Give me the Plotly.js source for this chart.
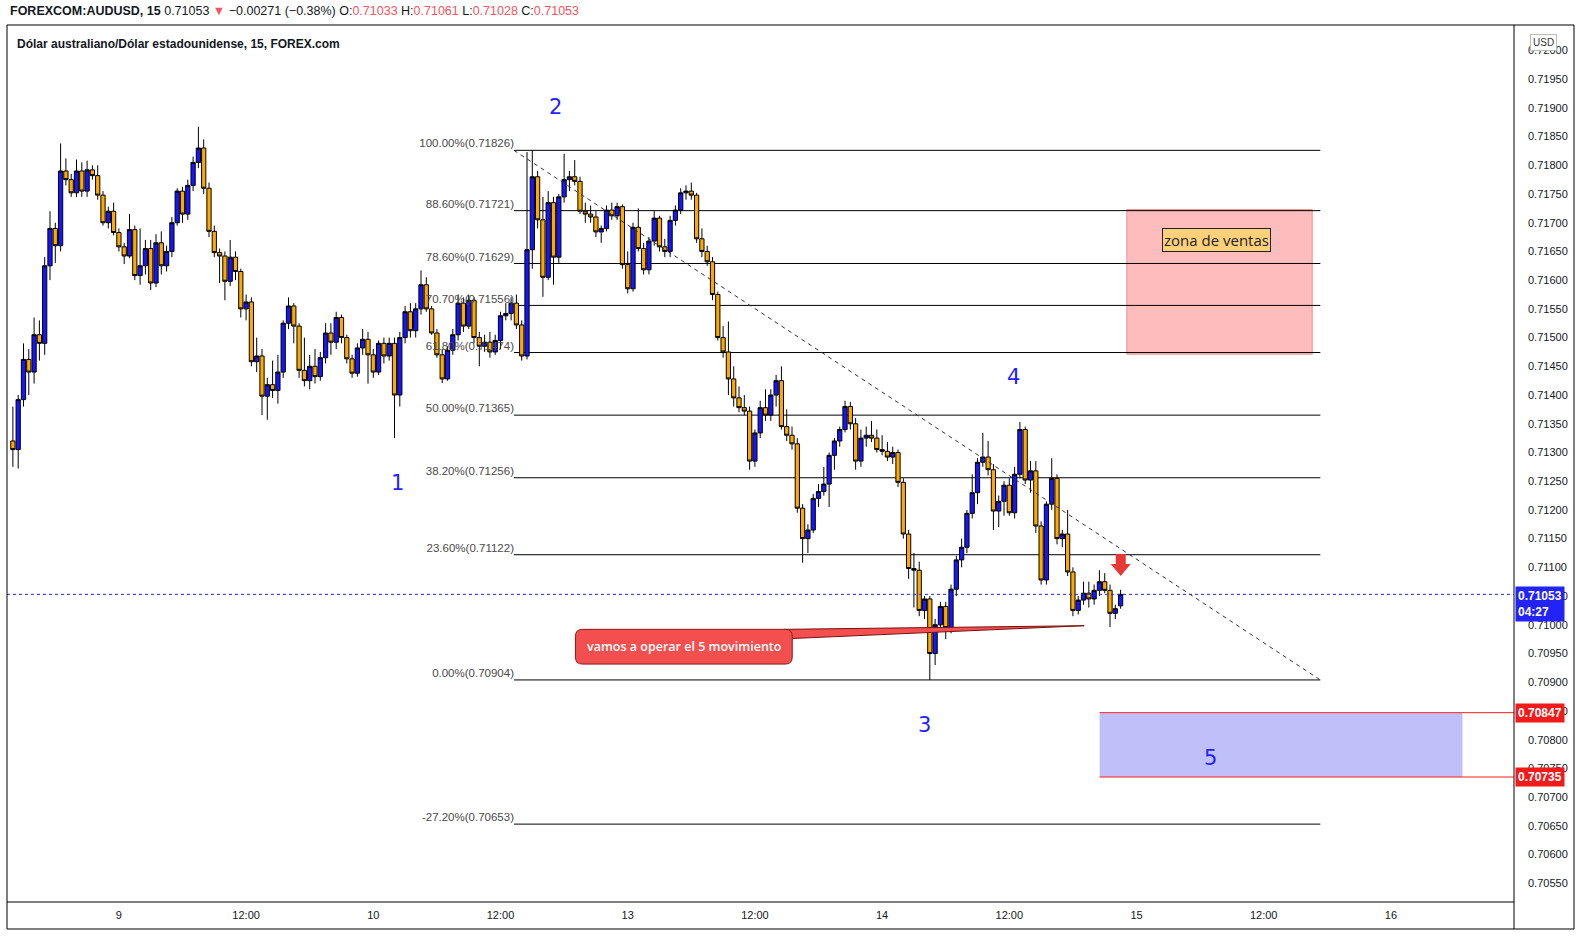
<!DOCTYPE html>
<html><head><meta charset="utf-8">
<script src="https://cdn.plot.ly/plotly-3.0.1.min.js"></script>
<style>html,body{margin:0;padding:0;background:#fff;}#chart{width:1580px;height:936px;}</style>
</head><body><div id="chart"></div>
<script>
// ---------- DATA (30-minute candles, AUDUSD) ----------
const barStartHour = -10;     // hours relative to day "9" 00:00
const barStepHours = 0.5;

const open = [
0.71320,0.71305,0.71392,0.71462,0.71440,0.71505,0.71490,0.71625,0.71690,0.71660,
0.71790,0.71775,0.71752,0.71790,0.71755,0.71792,0.71782,0.71748,0.71700,0.71720,
0.71683,0.71658,0.71642,0.71688,0.71608,0.71625,0.71655,0.71595,0.71665,0.71625,
0.71650,0.71700,0.71755,0.71715,0.71765,0.71805,0.71830,0.71760,0.71685,0.71648,
0.71642,0.71598,0.71640,0.71615,0.71550,0.71562,0.71458,0.71468,0.71398,0.71418,
0.71408,0.71440,0.71525,0.71555,0.71520,0.71443,0.71425,0.71450,0.71432,0.71465,
0.71508,0.71492,0.71535,0.71500,0.71463,0.71438,0.71482,0.71497,0.71470,0.71440,
0.71490,0.71468,0.71490,0.71400,0.71500,0.71545,0.71512,0.71550,0.71592,0.71550,
0.71508,0.71470,0.71428,0.71478,0.71505,0.71560,0.71520,0.71565,0.71500,0.71485,
0.71492,0.71475,0.71495,0.71538,0.71542,0.71560,0.71522,0.71468,0.71653,0.71780,
0.71705,0.71605,0.71735,0.71640,0.71745,0.71775,0.71780,0.71772,0.71720,0.71715,
0.71710,0.71684,0.71690,0.71722,0.71712,0.71728,0.71627,0.71585,0.71692,0.71655,
0.71618,0.71668,0.71708,0.71658,0.71650,0.71704,0.71722,0.71752,0.71755,0.71748,
0.71672,0.71650,0.71632,0.71575,0.71500,0.71475,0.71428,0.71395,0.71378,0.71372,
0.71285,0.71334,0.71378,0.71365,0.71400,0.71425,0.71345,0.71330,0.71315,0.71203,
0.71150,0.71165,0.71220,0.71232,0.71245,0.71295,0.71320,0.71340,0.71380,0.71350,
0.71285,0.71325,0.71330,0.71325,0.71305,0.71302,0.71292,0.71300,0.71248,0.71158,
0.71098,0.71095,0.71025,0.71045,0.70950,0.71000,0.71032,0.70995,0.71062,0.71113,
0.71135,0.71194,0.71230,0.71283,0.71292,0.71270,0.71198,0.71215,0.71243,0.71195,
0.71262,0.71340,0.71252,0.71268,0.71172,0.71078,0.71210,0.71255,0.71150,0.71158,
0.71092,0.71025,0.71043,0.71055,0.71045,0.71060,0.71075,0.71060,0.71020,0.71033];

const high = [
0.71380,0.71400,0.71490,0.71480,0.71535,0.71530,0.71640,0.71720,0.71700,0.71838,
0.71812,0.71785,0.71810,0.71805,0.71808,0.71800,0.71800,0.71755,0.71728,0.71735,
0.71690,0.71665,0.71715,0.71695,0.71690,0.71670,0.71670,0.71680,0.71685,0.71660,
0.71710,0.71760,0.71762,0.71775,0.71815,0.71867,0.71845,0.71770,0.71695,0.71655,
0.71650,0.71670,0.71650,0.71620,0.71575,0.71570,0.71500,0.71480,0.71430,0.71460,
0.71470,0.71530,0.71570,0.71560,0.71525,0.71500,0.71470,0.71480,0.71475,0.71525,
0.71525,0.71545,0.71540,0.71505,0.71470,0.71490,0.71515,0.71510,0.71480,0.71495,
0.71500,0.71500,0.71500,0.71510,0.71555,0.71560,0.71560,0.71617,0.71605,0.71555,
0.71515,0.71480,0.71485,0.71515,0.71575,0.71570,0.71575,0.71570,0.71510,0.71505,
0.71510,0.71505,0.71545,0.71560,0.71570,0.71575,0.71530,0.71823,0.71826,0.71790,
0.71745,0.71755,0.71745,0.71750,0.71820,0.71790,0.71809,0.71780,0.71735,0.71730,
0.71720,0.71695,0.71730,0.71735,0.71735,0.71732,0.71650,0.71700,0.71725,0.71665,
0.71675,0.71720,0.71712,0.71672,0.71712,0.71730,0.71760,0.71765,0.71770,0.71752,
0.71690,0.71660,0.71640,0.71580,0.71520,0.71528,0.71450,0.71415,0.71400,0.71380,
0.71340,0.71390,0.71410,0.71410,0.71435,0.71450,0.71375,0.71345,0.71325,0.71210,
0.71175,0.71228,0.71245,0.71275,0.71300,0.71325,0.71345,0.71390,0.71388,0.71360,
0.71340,0.71345,0.71355,0.71340,0.71330,0.71318,0.71310,0.71305,0.71255,0.71165,
0.71125,0.71110,0.71050,0.71050,0.71010,0.71040,0.71040,0.71070,0.71120,0.71150,
0.71200,0.71262,0.71290,0.71334,0.71320,0.71280,0.71225,0.71250,0.71255,0.71275,
0.71353,0.71345,0.71285,0.71285,0.71180,0.71215,0.71290,0.71262,0.71165,0.71200,
0.71100,0.71050,0.71075,0.71075,0.71070,0.71095,0.71090,0.71070,0.71035,0.71061];

const low = [
0.71275,0.71272,0.71380,0.71400,0.71420,0.71460,0.71470,0.71600,0.71630,0.71650,
0.71765,0.71745,0.71745,0.71745,0.71745,0.71775,0.71740,0.71695,0.71690,0.71678,
0.71650,0.71628,0.71638,0.71600,0.71592,0.71610,0.71583,0.71588,0.71610,0.71615,
0.71640,0.71695,0.71700,0.71705,0.71755,0.71795,0.71750,0.71675,0.71640,0.71595,
0.71565,0.71590,0.71600,0.71535,0.71530,0.71450,0.71440,0.71365,0.71357,0.71395,
0.71385,0.71430,0.71515,0.71490,0.71430,0.71415,0.71410,0.71420,0.71425,0.71455,
0.71470,0.71480,0.71490,0.71455,0.71430,0.71432,0.71470,0.71420,0.71430,0.71435,
0.71455,0.71460,0.71325,0.71380,0.71490,0.71500,0.71500,0.71540,0.71545,0.71505,
0.71465,0.71421,0.71425,0.71470,0.71495,0.71510,0.71515,0.71490,0.71450,0.71475,
0.71465,0.71470,0.71480,0.71530,0.71530,0.71515,0.71460,0.71462,0.71620,0.71690,
0.71571,0.71600,0.71592,0.71630,0.71735,0.71755,0.71765,0.71715,0.71700,0.71700,
0.71675,0.71665,0.71685,0.71705,0.71705,0.71620,0.71577,0.71580,0.71650,0.71610,
0.71610,0.71660,0.71650,0.71640,0.71640,0.71695,0.71715,0.71740,0.71740,0.71665,
0.71640,0.71625,0.71565,0.71495,0.71465,0.71400,0.71380,0.71370,0.71365,0.71270,
0.71275,0.71325,0.71355,0.71355,0.71380,0.71340,0.71320,0.71305,0.71195,0.71108,
0.71125,0.71160,0.71205,0.71225,0.71205,0.71270,0.71310,0.71335,0.71340,0.71270,
0.71275,0.71310,0.71318,0.71300,0.71295,0.71285,0.71280,0.71240,0.71150,0.71080,
0.71030,0.71015,0.71010,0.70904,0.70930,0.70990,0.70975,0.70985,0.71050,0.71100,
0.71125,0.71185,0.71210,0.71275,0.71260,0.71165,0.71170,0.71190,0.71190,0.71185,
0.71255,0.71245,0.71230,0.71160,0.71070,0.71070,0.71200,0.71140,0.71135,0.71085,
0.71015,0.71018,0.71035,0.71030,0.71035,0.71050,0.71055,0.70996,0.71010,0.71028];

const close = [
0.71305,0.71392,0.71462,0.71440,0.71505,0.71490,0.71625,0.71690,0.71660,0.71790,
0.71775,0.71752,0.71790,0.71755,0.71792,0.71782,0.71748,0.71700,0.71720,0.71683,
0.71658,0.71642,0.71688,0.71608,0.71625,0.71655,0.71595,0.71665,0.71625,0.71650,
0.71700,0.71755,0.71715,0.71765,0.71805,0.71830,0.71760,0.71685,0.71648,0.71642,
0.71598,0.71640,0.71615,0.71550,0.71562,0.71458,0.71468,0.71398,0.71418,0.71408,
0.71440,0.71525,0.71555,0.71520,0.71443,0.71425,0.71450,0.71432,0.71465,0.71508,
0.71492,0.71535,0.71500,0.71463,0.71438,0.71482,0.71497,0.71470,0.71440,0.71490,
0.71468,0.71490,0.71400,0.71500,0.71545,0.71512,0.71550,0.71592,0.71550,0.71508,
0.71470,0.71428,0.71478,0.71505,0.71560,0.71520,0.71565,0.71500,0.71485,0.71492,
0.71475,0.71495,0.71538,0.71542,0.71560,0.71522,0.71468,0.71653,0.71780,0.71705,
0.71605,0.71735,0.71640,0.71745,0.71775,0.71780,0.71772,0.71720,0.71715,0.71710,
0.71684,0.71690,0.71722,0.71712,0.71728,0.71627,0.71585,0.71692,0.71655,0.71618,
0.71668,0.71708,0.71658,0.71650,0.71704,0.71722,0.71752,0.71755,0.71748,0.71672,
0.71650,0.71632,0.71575,0.71500,0.71475,0.71428,0.71395,0.71378,0.71372,0.71285,
0.71334,0.71378,0.71365,0.71400,0.71425,0.71345,0.71330,0.71315,0.71203,0.71150,
0.71165,0.71220,0.71232,0.71245,0.71295,0.71320,0.71340,0.71380,0.71350,0.71285,
0.71325,0.71330,0.71325,0.71305,0.71302,0.71292,0.71300,0.71248,0.71158,0.71098,
0.71095,0.71025,0.71045,0.70950,0.71000,0.71032,0.70995,0.71062,0.71113,0.71135,
0.71194,0.71230,0.71283,0.71292,0.71270,0.71198,0.71215,0.71243,0.71195,0.71262,
0.71340,0.71252,0.71268,0.71172,0.71078,0.71210,0.71255,0.71150,0.71158,0.71092,
0.71025,0.71043,0.71055,0.71045,0.71060,0.71075,0.71060,0.71020,0.71028,0.71053];

// x-axis ticks (hours from day "9" 00:00, weekend removed)
const xTickVals = [0,12,24,36,48,60,72,84,96,108,120];
const xTickText = ['9','12:00','10','12:00','13','12:00','14','12:00','15','12:00','16'];

// Fibonacci retracement levels
const fibLabels = ['100.00%','88.60%','78.60%','70.70%','61.80%','50.00%','38.20%','23.60%','0.00%','-27.20%'];
const fibPrices = [0.71826,0.71721,0.71629,0.71556,0.71474,0.71365,0.71256,0.71122,0.70904,0.70653];
const fibStartHour = 37.27, fibEndHour = 113.34;

// levels / zones
const lastChange = '\u22120.00271 (\u22120.38%)';
const targetTop = 0.70847, targetBottom = 0.70735;
const sellTop = 0.71723, sellBottom = 0.71471;
const waveLabels = ['1','2','3','4','5'];
const waveHours  = [26.24, 41.17, 75.97, 84.43, 102.98];
const wavePrices = [0.71246, 0.71902, 0.70825, 0.71432, 0.70768];

// ---------- LAYOUT GEOMETRY ----------
const W = 1580, H = 936, M = {l:7, r:66, t:25, b:34};
const PW = W - M.l - M.r, PH = H - M.t - M.b;
const xRange = [-10.556, 131.61], yRange = [0.705174, 0.720442];
const hPx = (xRange[1]-xRange[0]) / PW, pPx = (yRange[1]-yRange[0]) / PH;
const paperX = v => (v - M.l) / PW, paperY = v => (H - M.b - v) / PH;

const times = open.map((_, i) => barStartHour + i * barStepHours);
const last = close.length - 1;
const lastPrice = close[last];

const BLUE = '#1f1fff', RED_TXT = '#f7525f';
const SANS = 'Liberation Sans, Arial, sans-serif';

// candles
const candle = {
  type: 'candlestick', x: times, open: open, high: high, low: low, close: close,
  increasing: {line: {color: '#000', width: 1}, fillcolor: '#1515ff'},
  decreasing: {line: {color: '#000', width: 1}, fillcolor: '#ffa800'},
  whiskerwidth: 0, hoverinfo: 'skip', showlegend: false
};
const fibText = {
  type: 'scatter', mode: 'text', x: fibPrices.map(() => fibStartHour), y: fibPrices,
  text: fibLabels.map((l, i) => l + '(' + fibPrices[i].toFixed(5) + ')'),
  textposition: 'top left', cliponaxis: false,
  textfont: {family: SANS, size: 11.5, color: '#4a4a4a'},
  hoverinfo: 'skip', showlegend: false
};

const shapes = [];
// sell zone
shapes.push({type:'rect', xref:'x', yref:'y', x0:95.08, x1:112.58, y0:sellBottom, y1:sellTop,
  fillcolor:'#ffbcbc', line:{color:'rgba(225,90,90,0.55)', width:1}, layer:'below'});
// fib lines
fibPrices.forEach(p => shapes.push({type:'line', xref:'x', yref:'y', x0:fibStartHour, x1:fibEndHour,
  y0:p, y1:p, line:{color:'#000', width:1}, layer:'below'}));
// target zone
shapes.push({type:'rect', xref:'x', yref:'y', x0:92.52, x1:126.75, y0:targetBottom, y1:targetTop,
  fillcolor:'#bfbff9', line:{width:0}, layer:'below'});
[targetTop, targetBottom].forEach(p => shapes.push({type:'line', xref:'x', yref:'y',
  x0:92.52, x1:xRange[1], y0:p, y1:p, line:{color:'#ff1a1a', width:1}}));
// current price dotted line
shapes.push({type:'line', xref:'paper', yref:'y', x0:0, x1:1, y0:lastPrice, y1:lastPrice,
  line:{color:'#2020ff', width:1, dash:'dot'}});
// trend dashed line
shapes.push({type:'line', xref:'x', yref:'y', x0:fibStartHour, y0:fibPrices[0], x1:fibEndHour, y1:fibPrices[8],
  line:{color:'#333', width:1, dash:'4px,4px'}});

// callout (wedge + rounded box)
const bx0 = 43.07, bx1 = 63.52, by0 = 0.709316, by1 = 0.709921;
const tipX = 91.07, tipY = 0.709984;
shapes.push({type:'path', xref:'x', yref:'y',
  path:`M ${bx1-0.75},${by1} L ${tipX},${tipY} L ${bx1},${by1-0.00016} Z`,
  fillcolor:'#f44f4f', line:{color:'#7a1010', width:1}});
const rx = 7*hPx, ry = 7*pPx;
shapes.push({type:'path', xref:'x', yref:'y',
  path:`M ${bx0+rx},${by1} L ${bx1-rx},${by1} Q ${bx1},${by1} ${bx1},${by1-ry} L ${bx1},${by0+ry} Q ${bx1},${by0} ${bx1-rx},${by0} L ${bx0+rx},${by0} Q ${bx0},${by0} ${bx0},${by0+ry} L ${bx0},${by1-ry} Q ${bx0},${by1} ${bx0+rx},${by1} Z`,
  fillcolor:'#f44f4f', line:{color:'#8a1818', width:1}});

// red down arrow
const aX = 94.51, aY = 0.71085;
const arrowPts = [[0,0],[-10,12],[-5,12],[-5,22],[5,22],[5,12],[10,12]];
shapes.push({type:'path', xref:'x', yref:'y',
  path:'M ' + arrowPts.map(p => (aX + p[0]*hPx) + ',' + (aY + p[1]*pPx)).join(' L ') + ' Z',
  fillcolor:'#e53935', line:{width:0}});

// frame lines
const fx1 = paperX(1574), fyB = paperY(929);
const frame = [
  [0, fyB, 0, 1], [0, 1, fx1, 1], [fx1, fyB, fx1, 1], [0, fyB, fx1, fyB],
  [1, fyB, 1, 1], [0, 0, 1, 0]
];
frame.forEach(f => shapes.push({type:'line', xref:'paper', yref:'paper', x0:f[0], y0:f[1], x1:f[2], y1:f[3],
  line:{color:'#000', width:1}}));

// annotations
const ann = [];
const redSpan = s => `<span style="color:${RED_TXT}">${s}</span>`;
ann.push({xref:'paper', yref:'paper', x:paperX(8), y:paperY(11.5), xanchor:'left', yanchor:'middle', showarrow:false,
  font:{family:SANS, size:12.5, color:'#131722'},
  text:`<b>FOREXCOM:AUDUSD, 15</b> ${lastPrice.toFixed(5)} ${redSpan('\u25BC')} ${lastChange} O:${redSpan(open[last].toFixed(5))} H:${redSpan(high[last].toFixed(5))} L:${redSpan(low[last].toFixed(5))} C:${redSpan(close[last].toFixed(5))}`});
ann.push({xref:'paper', yref:'paper', x:paperX(15), y:paperY(43.7), xanchor:'left', yanchor:'middle', showarrow:false,
  font:{family:SANS, size:12, color:'#131722'},
  text:'<b>Dólar australiano/Dólar estadounidense, 15, FOREX.com</b>'});
waveLabels.forEach((t, i) => ann.push({xref:'x', yref:'y', x:waveHours[i], y:wavePrices[i], showarrow:false,
  text:t, font:{family:'DejaVu Sans, sans-serif', size:21, color:BLUE}}));
ann.push({xref:'x', yref:'y', x:103.53, y:0.71670, showarrow:false, text:'zona de ventas',
  font:{family:'Open Sans, sans-serif', size:15, color:'#222'}, bgcolor:'#ffd07a', bordercolor:'#222', borderwidth:1, borderpad:1});
ann.push({xref:'x', yref:'y', x:(bx0+bx1)/2, y:(by0+by1)/2, showarrow:false, text:'vamos a operar el 5 movimiento',
  font:{family:'Open Sans, sans-serif', size:12.5, color:'#fff', weight:600}});
// price tags on axis
const tagX = 1 + 1/PW;
[targetTop, targetBottom].forEach(p => ann.push({xref:'paper', yref:'y', x:tagX, y:p, xanchor:'left', yanchor:'middle',
  showarrow:false, text:'<b>'+p.toFixed(5)+'</b>', bgcolor:'#f21b1b', borderpad:2,
  font:{family:SANS, size:12, color:'#fff'}}));
ann.push({xref:'paper', yref:'y', x:tagX, y:lastPrice + 8*pPx, xanchor:'left', yanchor:'top', align:'left',
  showarrow:false, text:'<b>'+lastPrice.toFixed(5)+'</b><br><b>04:27</b>', bgcolor:'#2323f5', borderpad:2,
  font:{family:SANS, size:12, color:'#fff'}});
ann.push({xref:'paper', yref:'paper', x:paperX(1543), y:paperY(43), xanchor:'center', yanchor:'middle', showarrow:false, text:'USD',
  font:{family:SANS, size:10, color:'#333'}, bgcolor:'#fff', bordercolor:'#bbb', borderwidth:1, borderpad:2});

const layout = {
  width: W, height: H, margin: M, paper_bgcolor:'#fff', plot_bgcolor:'#fff', showlegend:false,
  boxgap: 0.2, boxgroupgap: 0,
  xaxis: {range: xRange, tickmode:'array', tickvals: xTickVals, ticktext: xTickText, ticks:'',
    showgrid:false, zeroline:false, showline:false, rangeslider:{visible:false}, fixedrange:true,
    ticklabelstandoff: 5,
    tickfont:{family:SANS, size:11, color:'#131722'}},
  yaxis: {range: yRange, side:'right', tickmode:'linear', tick0:0.7055, dtick:0.0005, tickformat:'.5f',
    ticks:'', showgrid:false, zeroline:false, showline:false, fixedrange:true, ticklabelstandoff: 13,
    tickfont:{family:SANS, size:11, color:'#131722'}},
  shapes: shapes, annotations: ann
};
Plotly.newPlot('chart', [fibText, candle], layout, {displayModeBar:false, staticPlot:true});
</script></body></html>
